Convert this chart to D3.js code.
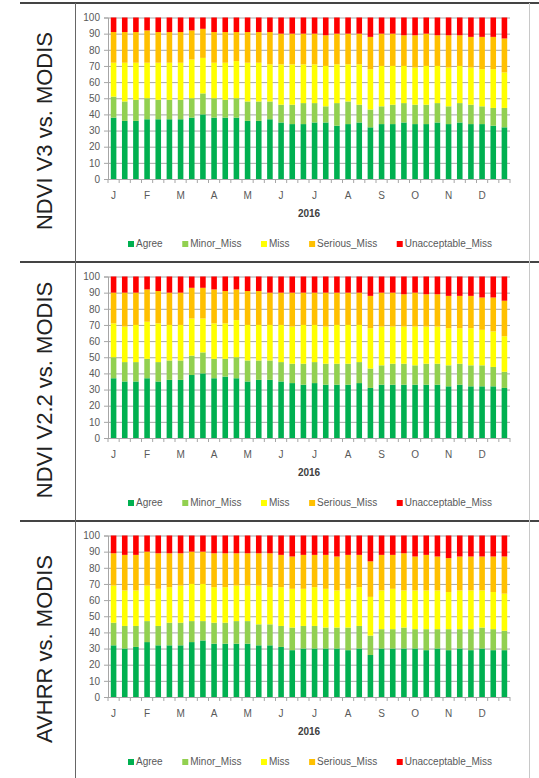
<!DOCTYPE html>
<html>
<head>
<meta charset="utf-8">
<script src="https://cdn.jsdelivr.net/npm/d3@7"></script>
<style>
  body { margin: 0; background: #fff; }
  svg { display: block; }
  text { font-family: "Liberation Sans", Arial, sans-serif; }
</style>
</head>
<body>
<svg id="chart" width="539" height="778"></svg>
<script>
// Month initials shown on the category axis (one label per month, three dekads each)
const monthInitials = ["J", "F", "M", "A", "M", "J", "J", "A", "S", "O", "N", "D"];
const monthNames = ["Jan", "Feb", "Mar", "Apr", "May", "Jun", "Jul", "Aug", "Sep", "Oct", "Nov", "Dec"];
const dekads = monthNames.flatMap(m => [m + "-1", m + "-2", m + "-3"]);
const yearLabel = "2016";
const yTicks = [0, 10, 20, 30, 40, 50, 60, 70, 80, 90, 100];

const seriesNames = ["Agree", "Minor_Miss", "Miss", "Serious_Miss", "Unacceptable_Miss"];
const seriesColors = ["#00b050", "#92d050", "#ffff00", "#ffc000", "#ff0000"];

// NDVI V3 vs. MODIS (% of pixels per dekad)
const v3Agree   = [38,36,36,37,37,37,37,38,40,38,38,38,36,36,37,35,34,34,35,35,33,34,35,32,34,34,35,34,34,35,34,35,34,34,33,32];
const v3Minor   = [13,12,13,13,12,12,12,12,13,12,11,12,12,12,11,11,12,13,12,10,14,14,11,11,11,12,12,12,12,12,11,12,12,11,11,12];
const v3Miss    = [21,24,23,22,23,23,23,24,22,22,23,23,24,24,23,25,25,24,24,25,24,23,25,25,25,24,23,23,24,23,24,23,23,23,24,22];
const v3Serious = [19,19,19,20,19,19,19,18,18,19,19,18,19,19,20,19,19,19,19,19,19,19,19,20,20,20,19,20,20,19,20,19,19,20,20,21];
const v3Unacc   = [9,9,9,8,9,9,9,8,7,9,9,9,9,9,9,10,10,10,10,11,10,10,10,12,10,10,11,11,10,11,11,11,12,12,12,13];

// NDVI V2.2 vs. MODIS
const v22Agree   = [37,35,35,37,35,36,36,39,40,37,38,37,35,36,36,35,34,33,34,33,33,33,34,31,33,33,33,33,33,33,32,33,32,32,32,31];
const v22Minor   = [13,12,12,12,12,12,12,12,13,12,11,13,13,12,12,12,12,13,13,13,13,13,13,12,12,13,13,12,13,13,13,13,13,13,12,10];
const v22Miss    = [21,22,23,23,24,22,22,23,21,22,22,23,22,22,22,23,23,24,23,23,24,24,23,25,24,23,23,24,23,23,23,22,23,22,22,22];
const v22Serious = [19,21,20,20,20,20,20,19,19,21,20,19,21,21,20,20,21,20,20,21,20,20,20,20,21,21,20,21,20,20,20,20,20,20,21,22];
const v22Unacc   = [10,10,10,8,9,10,10,7,7,8,9,8,9,9,10,10,10,10,10,10,10,10,10,12,10,10,11,10,11,11,12,12,12,13,13,15];

// AVHRR vs. MODIS
const avAgree   = [32,30,31,34,32,32,32,34,35,33,33,33,33,32,32,31,29,30,30,30,30,29,30,26,30,30,30,30,29,30,29,30,29,30,29,29];
const avMinor   = [14,14,13,13,12,14,14,13,12,13,13,14,14,13,13,13,14,14,14,13,13,14,14,12,12,12,13,12,13,12,13,12,13,13,13,12];
const avMiss    = [23,22,22,22,23,22,23,23,23,22,22,22,22,24,23,24,24,23,24,24,23,24,24,24,24,25,23,24,24,24,23,24,24,23,23,23];
const avSerious = [20,22,22,21,22,21,20,20,20,21,21,20,20,20,21,20,20,21,20,21,21,21,20,22,22,21,23,21,22,21,21,21,21,21,22,23];
const avUnacc   = [11,12,12,10,11,11,11,10,10,11,11,11,11,11,11,12,13,12,12,12,13,12,12,16,12,12,11,13,12,13,14,13,13,13,13,13];

const panels = [
  { title: "NDVI V3 vs. MODIS",   values: [v3Agree, v3Minor, v3Miss, v3Serious, v3Unacc] },
  { title: "NDVI V2.2 vs. MODIS", values: [v22Agree, v22Minor, v22Miss, v22Serious, v22Unacc] },
  { title: "AVHRR vs. MODIS",     values: [avAgree, avMinor, avMiss, avSerious, avUnacc] }
];

const svg = d3.select("#chart");
const W = 539, H = 778;
const panelTops = [3, 262, 521];
const labelColX = 75;
const plotLeft = 108, plotRight = 510;
const textGray = "#595959";

const x = d3.scaleBand().domain(dekads).range([plotLeft, plotRight])
  .paddingInner(0.5).paddingOuter(0.25);
const y = d3.scaleLinear().domain([0, 100]).range([176, 14.5]);

panels.forEach((panel, p) => {
  const g = svg.append("g").attr("transform", `translate(0,${panelTops[p]})`);

  // Rows for stacking
  const rows = dekads.map((d, i) => {
    const r = { period: d };
    seriesNames.forEach((s, k) => { r[s] = panel.values[k][i]; });
    return r;
  });
  const stacked = d3.stack().keys(seriesNames)(rows);

  // Horizontal gridlines
  g.append("g").selectAll("line").data(yTicks.filter(t => t > 0)).join("line")
    .attr("x1", plotLeft).attr("x2", plotRight)
    .attr("y1", d => y(d) + 0.5).attr("y2", d => y(d) + 0.5)
    .attr("stroke", "#a6a6a6").attr("stroke-width", 1);

  // Stacked bars
  g.append("g").selectAll("g").data(stacked).join("g")
    .attr("fill", (d, k) => seriesColors[k])
    .selectAll("rect").data(d => d).join("rect")
    .attr("x", d => x(d.data.period))
    .attr("width", x.bandwidth())
    .attr("y", d => y(d[1]))
    .attr("height", d => y(d[0]) - y(d[1]));

  // Y axis
  const yAxis = g.append("g").attr("transform", `translate(${plotLeft},0)`)
    .call(d3.axisLeft(y).tickValues(yTicks).tickSize(4).tickPadding(4));
  yAxis.select(".domain").attr("stroke", "#a6a6a6");
  yAxis.selectAll(".tick line").attr("stroke", "#a6a6a6");
  yAxis.selectAll(".tick text").attr("fill", textGray)
    .style("font-size", "10px").style("font-family", "'Liberation Sans', Arial, sans-serif");

  // X axis: baseline with ticks between categories
  g.append("line").attr("x1", plotLeft).attr("x2", plotRight)
    .attr("y1", y(0) + 0.5).attr("y2", y(0) + 0.5).attr("stroke", "#a6a6a6");
  const step = x.step();
  g.append("g").selectAll("line").data(d3.range(dekads.length + 1)).join("line")
    .attr("x1", i => plotLeft + i * step).attr("x2", i => plotLeft + i * step)
    .attr("y1", y(0)).attr("y2", y(0) + 4)
    .attr("stroke", "#a6a6a6");

  // Month initials on the first dekad of each month
  g.append("g").selectAll("text").data(monthInitials).join("text")
    .attr("x", (m, i) => x(dekads[i * 3]) + x.bandwidth() / 2)
    .attr("y", 195.5)
    .attr("text-anchor", "middle")
    .attr("fill", textGray).style("font-size", "10px")
    .text(m => m);

  // Year title
  g.append("text").attr("x", (plotLeft + plotRight) / 2).attr("y", 213.5)
    .attr("text-anchor", "middle").attr("fill", "#404040")
    .style("font-size", "10px").style("font-weight", "bold")
    .text(yearLabel);

  // Legend
  const legend = g.append("g").attr("transform", "translate(0,243)");
  const items = legend.selectAll("g").data(seriesNames).join("g");
  items.append("rect").attr("width", 6).attr("height", 6).attr("y", -5)
    .attr("fill", (d, k) => seriesColors[k]);
  items.append("text").attr("x", 8).attr("y", 1)
    .attr("fill", textGray).style("font-size", "10px").text(d => d);
  const widths = [];
  items.each(function () { widths.push(8 + d3.select(this).select("text").node().getComputedTextLength()); });
  const totalSpan = 364;
  const gap = (totalSpan - d3.sum(widths)) / (widths.length - 1);
  let cx = 310 - totalSpan / 2;
  items.attr("transform", (d, k) => {
    const t = `translate(${cx},0)`;
    cx += widths[k] + gap;
    return t;
  });

  // Row label
  g.append("text")
    .attr("transform", `translate(52,128) rotate(-90)`)
    .attr("text-anchor", "middle")
    .attr("fill", "#222")
    .style("font-size", "22px")
    .text(panel.title);
});

// Table rules
const rules = svg.append("g");
[3, 262, 521].forEach(yy => {
  rules.append("line").attr("x1", 20).attr("x2", W).attr("y1", yy).attr("y2", yy)
    .attr("stroke", "#444").attr("stroke-width", 2);
});
rules.append("line").attr("x1", labelColX + 0.5).attr("x2", labelColX + 0.5)
  .attr("y1", 3).attr("y2", H).attr("stroke", "#666").attr("stroke-width", 1);
rules.append("line").attr("x1", 529.5).attr("x2", 529.5)
  .attr("y1", 3).attr("y2", H).attr("stroke", "#c8c8c8").attr("stroke-width", 1);
</script>
</body>
</html>
